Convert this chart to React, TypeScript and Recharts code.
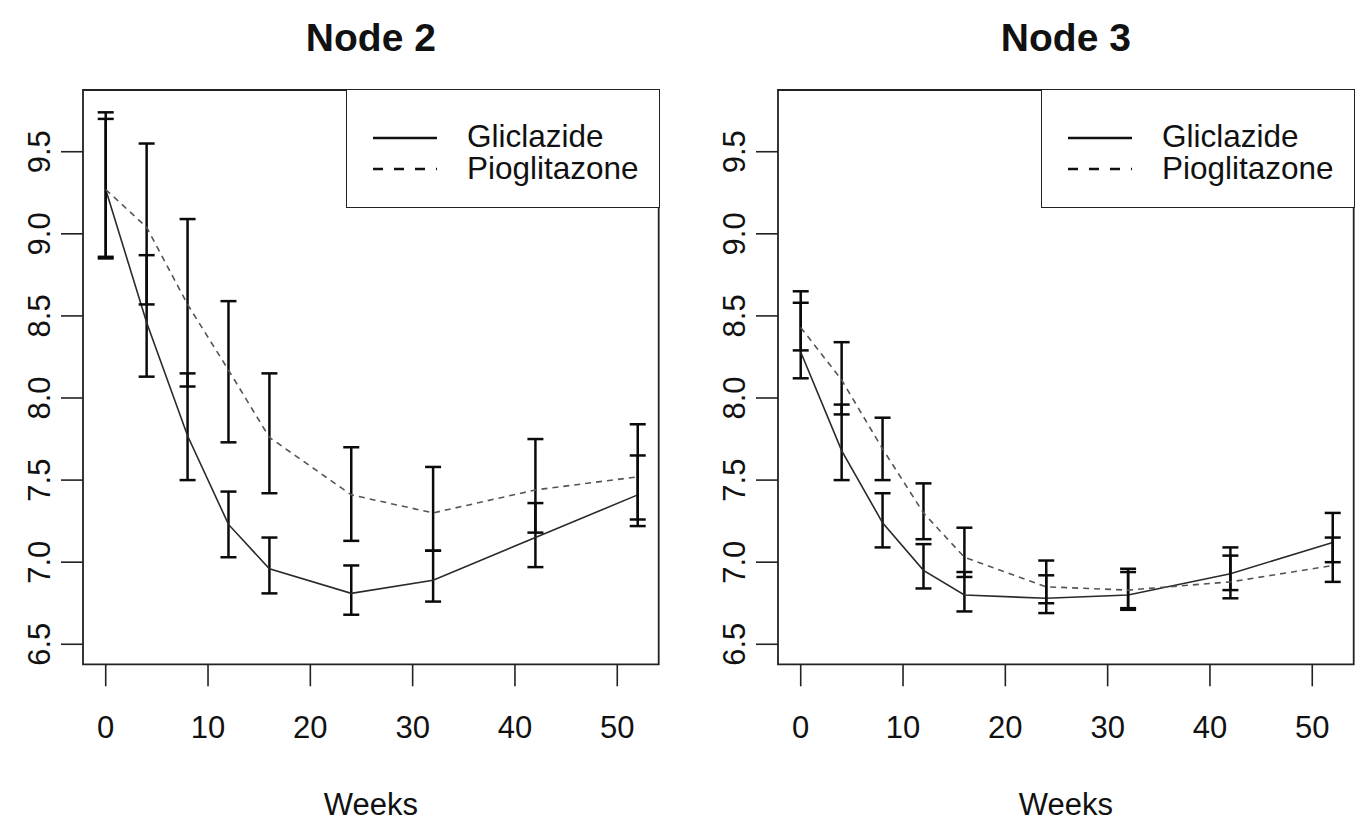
import { ComposedChart, Line, ErrorBar, XAxis, YAxis, ReferenceArea } from 'recharts';

// HbA1c (%) over time for two treatment arms, split by tree node
const weeks = [0, 4, 8, 12, 16, 24, 32, 42, 52];
const xTicks = [0, 10, 20, 30, 40, 50];
const yTicks = [6.5, 7, 7.5, 8, 8.5, 9, 9.5];

// Node 2
const node2Gliclazide = [9.27, 8.46, 7.77, 7.23, 6.96, 6.81, 6.89, 7.15, 7.41];
const node2Pioglitazone = [9.27, 9.04, 8.57, 8.17, 7.76, 7.41, 7.3, 7.44, 7.52];
const node2GliclazideLow = [8.86, 8.13, 7.5, 7.03, 6.81, 6.68, 6.76, 6.97, 7.26];
const node2GliclazideHigh = [9.74, 8.87, 8.15, 7.43, 7.15, 6.98, 7.07, 7.36, 7.65];
const node2PioglitazoneLow = [8.85, 8.57, 8.07, 7.73, 7.42, 7.13, 7.07, 7.18, 7.22];
const node2PioglitazoneHigh = [9.7, 9.55, 9.09, 8.59, 8.15, 7.7, 7.58, 7.75, 7.84];

// Node 3
const node3Gliclazide = [8.28, 7.68, 7.24, 6.95, 6.8, 6.78, 6.8, 6.93, 7.12];
const node3Pioglitazone = [8.43, 8.11, 7.69, 7.3, 7.03, 6.85, 6.83, 6.88, 6.98];
const node3GliclazideLow = [8.12, 7.5, 7.09, 6.84, 6.7, 6.69, 6.72, 6.83, 7.0];
const node3GliclazideHigh = [8.58, 7.96, 7.42, 7.11, 6.94, 6.92, 6.94, 7.09, 7.3];
const node3PioglitazoneLow = [8.29, 7.9, 7.5, 7.14, 6.91, 6.75, 6.71, 6.78, 6.88];
const node3PioglitazoneHigh = [8.65, 8.34, 7.88, 7.48, 7.21, 7.01, 6.96, 7.04, 7.15];

const FONT = '"Liberation Sans", Arial, Helvetica, sans-serif';
const X_DOMAIN: [number, number] = [-2.22, 54.05];
const Y_DOMAIN: [number, number] = [6.378, 9.876];

const PANEL_W = 690;
const PANEL_H = 823;
const PLOT_LEFT = 83;
const PLOT_RIGHT = 658.7;

function buildRows(
  glic: number[],
  pio: number[],
  glicLow: number[],
  glicHigh: number[],
  pioLow: number[],
  pioHigh: number[]
) {
  return weeks.map((week, i) => ({
    week,
    glic: glic[i],
    pio: pio[i],
    // ErrorBar wants offsets below / above the plotted value
    glicErr: [glic[i] - glicLow[i], glicHigh[i] - glic[i]],
    pioErr: [pio[i] - pioLow[i], pioHigh[i] - pio[i]],
  }));
}

const node2Rows = buildRows(
  node2Gliclazide,
  node2Pioglitazone,
  node2GliclazideLow,
  node2GliclazideHigh,
  node2PioglitazoneLow,
  node2PioglitazoneHigh
);

const node3Rows = buildRows(
  node3Gliclazide,
  node3Pioglitazone,
  node3GliclazideLow,
  node3GliclazideHigh,
  node3PioglitazoneLow,
  node3PioglitazoneHigh
);

const XTick = (props: any) => {
  const { x, y, payload } = props;
  return (
    <text x={x} y={y} textAnchor="middle" dominantBaseline="central" fontSize={31} fontFamily={FONT} fill="#111">
      {payload.value}
    </text>
  );
};

const YTick = (props: any) => {
  const { x, y, payload } = props;
  return (
    <text
      x={x}
      y={y}
      transform={`rotate(-90, ${x}, ${y})`}
      textAnchor="middle"
      dominantBaseline="central"
      fontSize={31}
      fontFamily={FONT}
      fill="#111"
    >
      {Number(payload.value).toFixed(1)}
    </text>
  );
};

function LegendBox() {
  return (
    <div
      style={{
        position: 'absolute',
        left: 346,
        top: 89,
        width: PLOT_RIGHT - 346 + 1,
        height: 119,
        border: '1.8px solid #222',
        boxSizing: 'border-box',
        background: '#fff',
      }}
    >
      <svg width={312} height={117} style={{ display: 'block' }}>
        <line x1={26} y1={48} x2={90} y2={48} stroke="#111" strokeWidth={2.6} />
        <line x1={26} y1={79} x2={90} y2={79} stroke="#111" strokeWidth={2.6} strokeDasharray="10 11" />
        <text x={120} y={46} dominantBaseline="central" fontSize={31.5} fontFamily={FONT} fill="#111">
          Gliclazide
        </text>
        <text x={120} y={78} dominantBaseline="central" fontSize={31.5} fontFamily={FONT} fill="#111">
          Pioglitazone
        </text>
      </svg>
    </div>
  );
}

function NodePanel({ title, rows, left }: { title: string; rows: any[]; left: number }) {
  return (
    <div style={{ position: 'absolute', left, top: 0, width: PANEL_W, height: PANEL_H }}>
      <ComposedChart
        width={PANEL_W}
        height={PANEL_H}
        data={rows}
        margin={{ top: 90, right: PANEL_W - PLOT_RIGHT, bottom: 98.7, left: PLOT_LEFT - 60 }}
      >
        <XAxis
          dataKey="week"
          type="number"
          domain={X_DOMAIN}
          ticks={xTicks}
          allowDataOverflow
          axisLine={false}
          stroke="#222"
          tickSize={22}
          tickMargin={41}
          tickLine={{ stroke: '#222', strokeWidth: 1.6 }}
          tick={XTick}
          height={60}
        />
        <YAxis
          type="number"
          domain={Y_DOMAIN}
          ticks={yTicks}
          allowDataOverflow
          axisLine={false}
          stroke="#222"
          tickSize={22}
          tickMargin={21}
          tickLine={{ stroke: '#222', strokeWidth: 1.6 }}
          tick={YTick}
          width={60}
        />
        <ReferenceArea
          x1={X_DOMAIN[0]}
          x2={X_DOMAIN[1]}
          y1={Y_DOMAIN[0]}
          y2={Y_DOMAIN[1]}
          fill="none"
          fillOpacity={0}
          stroke="#222"
          strokeWidth={1.8}
          ifOverflow="visible"
        />
        <Line
          dataKey="glic"
          type="linear"
          stroke="#2a2a2a"
          strokeWidth={1.6}
          dot={false}
          activeDot={false}
          isAnimationActive={false}
        >
          <ErrorBar dataKey="glicErr" width={8} stroke="#0a0a0a" strokeWidth={2.5} isAnimationActive={false} />
        </Line>
        <Line
          dataKey="pio"
          type="linear"
          stroke="#555"
          strokeWidth={1.6}
          strokeDasharray="6 5"
          dot={false}
          activeDot={false}
          isAnimationActive={false}
        >
          <ErrorBar dataKey="pioErr" width={8} stroke="#0a0a0a" strokeWidth={2.5} isAnimationActive={false} />
        </Line>
      </ComposedChart>

      <div
        style={{
          position: 'absolute',
          left: PLOT_LEFT,
          width: PLOT_RIGHT - PLOT_LEFT,
          top: 18,
          lineHeight: '40px',
          textAlign: 'center',
          fontSize: 39,
          fontWeight: 'bold',
          color: '#111',
        }}
      >
        {title}
      </div>
      <div
        style={{
          position: 'absolute',
          left: PLOT_LEFT,
          width: PLOT_RIGHT - PLOT_LEFT,
          top: 787,
          lineHeight: '36px',
          textAlign: 'center',
          fontSize: 31,
          color: '#111',
        }}
      >
        Weeks
      </div>
      <LegendBox />
    </div>
  );
}

export default function App() {
  return (
    <div
      style={{
        position: 'absolute',
        left: 0,
        top: 0,
        width: 1362,
        height: 823,
        background: '#fff',
        fontFamily: FONT,
        overflow: 'hidden',
      }}
    >
      <NodePanel title="Node 2" rows={node2Rows} left={0} />
      <NodePanel title="Node 3" rows={node3Rows} left={695} />
    </div>
  );
}
